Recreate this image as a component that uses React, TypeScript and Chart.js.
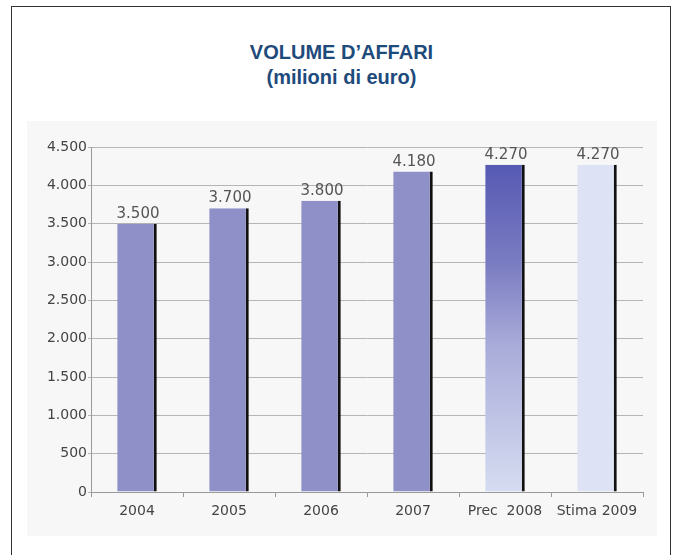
import React, { useEffect, useRef } from "react";
import { Chart, registerables } from "chart.js";

Chart.register(...registerables);

const categories = ["2004", "2005", "2006", "2007", "Prec  2008", "Stima 2009"];
const values = [3500, 3700, 3800, 4180, 4270, 4270];
const yTicks = [0, 500, 1000, 1500, 2000, 2500, 3000, 3500, 4000, 4500];
const titleLines = ["VOLUME D\u2019AFFARI", "(milioni di euro)"];

const fmt = (v: number) => v.toLocaleString("de-DE");

const valueLabels = {
  id: "valueLabels",
  afterDatasetsDraw(chart: any) {
    const ctx = chart.ctx;
    const meta = chart.getDatasetMeta(0);
    ctx.save();
    ctx.font = "15px 'DejaVu Sans', sans-serif";
    ctx.fillStyle = "#555";
    ctx.textAlign = "center";
    ctx.textBaseline = "alphabetic";
    meta.data.forEach((bar: any, i: number) => {
      ctx.fillText(fmt(values[i]), bar.x + 1, bar.y - 6);
    });
    ctx.restore();
  },
};

export default function App() {
  const ref = useRef<HTMLCanvasElement>(null);
  useEffect(() => {
    document.body.style.margin = "0";
    const canvas = ref.current!;
    const chart = new Chart(canvas, {
      type: "bar",
      data: {
        labels: categories,
        datasets: [
          {
            data: values,
            backgroundColor: (c: any) => {
              const i = c.dataIndex;
              if (i === 4) {
                const ch = c.chart;
                const area = ch.chartArea;
                if (!area) return "#8f90c8";
                const ys = ch.scales.y;
                const top = ys.getPixelForValue(values[4]);
                const g = ch.ctx.createLinearGradient(0, top, 0, area.bottom);
                g.addColorStop(0, "#5659b2");
                g.addColorStop(0.3, "#7a7cc2");
                g.addColorStop(0.55, "#a9abd9");
                g.addColorStop(1, "#d6dcf1");
                return g;
              }
              if (i === 5) return "#dde3f4";
              return "#8f90c8";
            },
            borderColor: "#111",
            borderWidth: { top: 0, left: 0, bottom: 0, right: 3 } as any,
            borderSkipped: false as any,
            categoryPercentage: 1,
            barPercentage: 0.43,
          },
        ],
      },
      options: {
        animation: false,
        responsive: false,
        maintainAspectRatio: false,
        layout: { padding: { left: 31, right: 40, top: 147, bottom: 28 } },
        plugins: { legend: { display: false }, tooltip: { enabled: false }, title: { display: false } },
        scales: {
          x: {
            offset: true,
            grid: { display: true, drawOnChartArea: false, offset: true, tickLength: 5, color: "#999" },
            border: { color: "#999" },
            ticks: { color: "#444", font: { family: "'DejaVu Sans', sans-serif", size: 14 }, padding: 6 },
            afterFit: (s: any) => { s.height = 35; },
          },
          y: {
            min: 0,
            max: 4500,
            afterBuildTicks: (s: any) => { s.ticks = yTicks.map((v) => ({ value: v })); },
            grid: { color: "#b5b5b5", tickLength: 3 },
            border: { color: "#999" },
            ticks: {
              color: "#444",
              font: { family: "'DejaVu Sans', sans-serif", size: 14 },
              callback: (v: any) => fmt(Number(v)),
              padding: 1,
            },
            afterFit: (s: any) => { s.width = 60; },
          },
        },
      },
      plugins: [valueLabels],
    });
    return () => chart.destroy();
  }, []);

  return (
    <div style={{ position: "absolute", left: 0, top: 0, width: 683, height: 555, background: "#fff", overflow: "hidden" }}>
      <div style={{ position: "absolute", left: 11, top: 6, width: 658, height: 600, border: "1.5px solid #333" }} />
      <div style={{ position: "absolute", left: 27, top: 121, width: 630, height: 415, background: "#f7f7f7" }} />
      <div
        style={{
          position: "absolute",
          left: 0,
          top: 40,
          width: 683,
          textAlign: "center",
          fontFamily: "'Liberation Sans', Arial, sans-serif",
          fontWeight: "bold",
          fontSize: 20,
          lineHeight: "25px",
          color: "#1e4b7b",
        }}
      >
        <div>{titleLines[0]}</div>
        <div>{titleLines[1]}</div>
      </div>
      <canvas ref={ref} width={683} height={555} style={{ position: "absolute", left: 0, top: 0 }} />
    </div>
  );
}
